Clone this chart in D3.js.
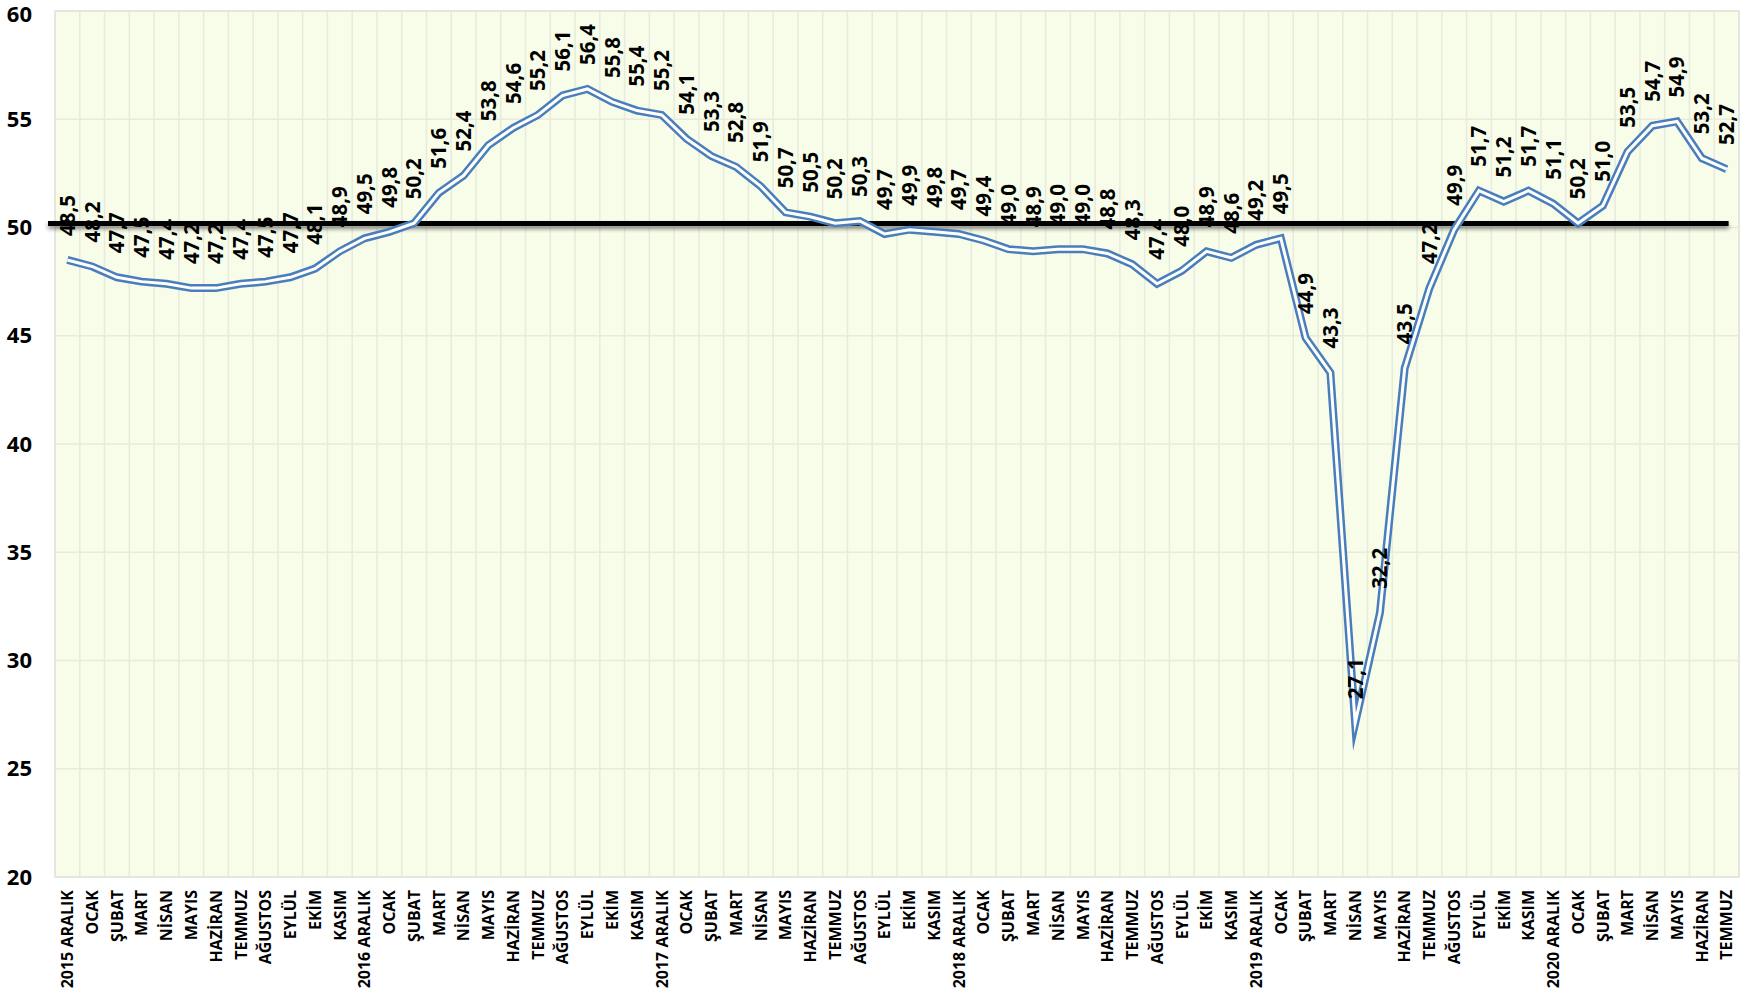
<!DOCTYPE html>
<html>
<head>
<meta charset="utf-8">
<script src="https://cdn.jsdelivr.net/npm/d3@7"></script>
<style>
  html, body { margin: 0; padding: 0; background: #ffffff; }
  svg { display: block; }
</style>
</head>
<body>
<svg id="chart" width="1760" height="993"></svg>
<script>
// ---- DATA ----
const categories = [
  "2015 ARALIK","OCAK","ŞUBAT","MART","NİSAN","MAYIS","HAZİRAN","TEMMUZ","AĞUSTOS","EYLÜL","EKİM","KASIM",
  "2016 ARALIK","OCAK","ŞUBAT","MART","NİSAN","MAYIS","HAZİRAN","TEMMUZ","AĞUSTOS","EYLÜL","EKİM","KASIM",
  "2017 ARALIK","OCAK","ŞUBAT","MART","NİSAN","MAYIS","HAZİRAN","TEMMUZ","AĞUSTOS","EYLÜL","EKİM","KASIM",
  "2018 ARALIK","OCAK","ŞUBAT","MART","NİSAN","MAYIS","HAZİRAN","TEMMUZ","AĞUSTOS","EYLÜL","EKİM","KASIM",
  "2019 ARALIK","OCAK","ŞUBAT","MART","NİSAN","MAYIS","HAZİRAN","TEMMUZ","AĞUSTOS","EYLÜL","EKİM","KASIM",
  "2020 ARALIK","OCAK","ŞUBAT","MART","NİSAN","MAYIS","HAZİRAN","TEMMUZ"
];
const values = [
  48.5,48.2,47.7,47.5,47.4,47.2,47.2,47.4,47.5,47.7,48.1,48.9,
  49.5,49.8,50.2,51.6,52.4,53.8,54.6,55.2,56.1,56.4,55.8,55.4,
  55.2,54.1,53.3,52.8,51.9,50.7,50.5,50.2,50.3,49.7,49.9,49.8,
  49.7,49.4,49.0,48.9,49.0,49.0,48.8,48.3,47.4,48.0,48.9,48.6,
  49.2,49.5,44.9,43.3,27.1,32.2,43.5,47.2,49.9,51.7,51.2,51.7,
  51.1,50.2,51.0,53.5,54.7,54.9,53.2,52.7
];
const yTicks = [20,25,30,35,40,45,50,55,60];
const yDomain = [20,60];
const threshold = 50;

// ---- LAYOUT ----
const W = 1760, H = 993;
const margin = {left: 55, right: 21, top: 11, bottom: 116};
const svg = d3.select("#chart");
const FONT = "'Open Sans', 'Noto Sans', sans-serif";

const idx = d3.range(values.length);
const x = d3.scaleBand().domain(idx).range([margin.left, W - margin.right]).padding(0);
const y = d3.scaleLinear().domain(yDomain).range([H - margin.bottom, margin.top]);
const bw = x.bandwidth();
const cx = i => x(i) + bw / 2;

const defs = svg.append("defs");
const f = defs.append("filter").attr("id","shadow")
  .attr("filterUnits","userSpaceOnUse")
  .attr("x", 0).attr("y", 0).attr("width", W).attr("height", H);
f.append("feDropShadow").attr("dx",0).attr("dy",3).attr("stdDeviation",2.2)
  .attr("flood-color","#000").attr("flood-opacity",0.45);

// plot background
svg.append("rect")
  .attr("x", margin.left).attr("y", margin.top)
  .attr("width", W - margin.left - margin.right)
  .attr("height", H - margin.top - margin.bottom)
  .attr("fill", "#f8fdea");

// vertical gridlines (band boundaries)
const g = svg.append("g");
g.selectAll("line.v").data(d3.range(values.length + 1)).join("line")
  .attr("class","v")
  .attr("x1", i => i < values.length ? x(i) : x(values.length - 1) + bw)
  .attr("x2", i => i < values.length ? x(i) : x(values.length - 1) + bw)
  .attr("y1", margin.top).attr("y2", H - margin.bottom)
  .attr("stroke", "#e7eadc").attr("stroke-width", 1.5);

// horizontal gridlines
g.selectAll("line.h").data(yTicks).join("line")
  .attr("class","h")
  .attr("x1", margin.left).attr("x2", W - margin.right)
  .attr("y1", d => y(d)).attr("y2", d => y(d))
  .attr("stroke", "#e7eadc").attr("stroke-width", 1.5);

// plot border
svg.append("rect")
  .attr("x", margin.left).attr("y", margin.top)
  .attr("width", W - margin.left - margin.right)
  .attr("height", H - margin.top - margin.bottom)
  .attr("fill", "none").attr("stroke", "#e2e4dc").attr("stroke-width", 1.5);

// y axis
const yAxis = svg.append("g")
  .attr("transform", `translate(${margin.left},0)`)
  .call(d3.axisLeft(y).tickValues(yTicks).tickSize(0).tickPadding(23).tickFormat(d3.format("d")));
yAxis.select(".domain").remove();
yAxis.selectAll("text")
  .attr("font-family", FONT).attr("font-weight", "bold").attr("font-size", 22).attr("fill", "#000");
yAxis.selectAll(".tick").filter(d => d === yDomain[1]).select("text").attr("dy", "0.48em");

// x axis
const xAxis = svg.append("g")
  .attr("transform", `translate(0,${H - margin.bottom})`)
  .call(d3.axisBottom(x).tickSize(0).tickFormat(i => categories[i]));
xAxis.select(".domain").remove();
xAxis.selectAll("text")
  .attr("transform", "rotate(-90)")
  .attr("text-anchor", "end")
  .attr("x", -13).attr("y", 0).attr("dy", "0.36em")
  .attr("font-family", FONT).attr("font-weight", "bold").attr("font-size", 16).attr("fill", "#000");

// threshold black bar with shadow
const barX0 = margin.left - 7, barX1 = cx(values.length - 1) + 2;
svg.append("rect")
  .attr("x", barX0)
  .attr("width", barX1 - barX0)
  .attr("y", y(threshold) - 6.5).attr("height", 5)
  .attr("fill", "#000")
  .attr("filter", "url(#shadow)");

// double line
const line = d3.line().x((d, i) => cx(i)).y(d => y(d));
svg.append("path").datum(values)
  .attr("d", line).attr("fill", "none")
  .attr("stroke", "#4a7ebb").attr("stroke-width", 8)
  .attr("stroke-linejoin", "miter").attr("stroke-miterlimit", 10);
svg.append("path").datum(values)
  .attr("d", line).attr("fill", "none")
  .attr("stroke", "#ffffff").attr("stroke-width", 3)
  .attr("stroke-linejoin", "miter").attr("stroke-miterlimit", 10);

// data labels
const fmt = v => d3.format(".1f")(v).replace(".", ",");
svg.append("g").selectAll("text").data(values).join("text")
  .attr("transform", (d, i) => `translate(${cx(i)},${y(d) - 24}) rotate(-90)`)
  .attr("text-anchor", "start").attr("dy", "0.36em")
  .attr("font-family", FONT).attr("font-weight", "bold").attr("font-size", 20.5).attr("fill", "#000")
  .text(fmt);
</script>
</body>
</html>
